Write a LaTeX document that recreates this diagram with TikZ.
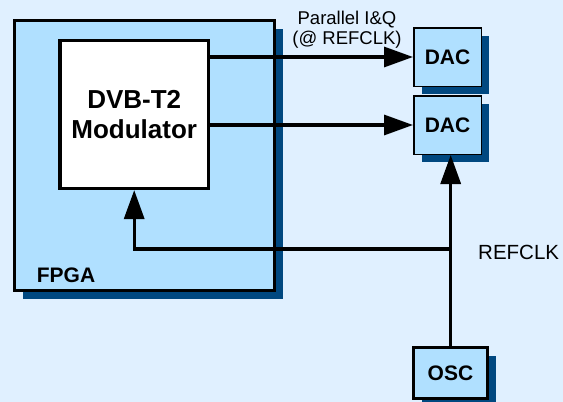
\documentclass[tikz,border=0pt]{standalone}
\usepackage{fontspec}
\setmainfont{Liberation Sans}
\usetikzlibrary{arrows.meta,shadows}
\definecolor{bgblue}{RGB}{224,240,255}
\definecolor{boxblue}{RGB}{176,224,255}
\definecolor{shadowblue}{RGB}{0,72,128}
\tikzset{
  shad/.style={drop shadow={shadow xshift=8pt, shadow yshift=-8pt, fill=shadowblue, opacity=1}},
  fpgabox/.style={draw=black, line width=3.4pt, fill=boxblue, shad, inner sep=0pt},
  modbox/.style={draw=black, line width=3.2pt, fill=white, inner sep=0pt, align=center,
     font=\bfseries\fontsize{26}{30}\selectfont},
  dacbox/.style={draw=black, line width=1.5pt, fill=boxblue, shad, inner sep=0pt,
     font=\bfseries\fontsize{21}{24}\selectfont},
  oscbox/.style={draw=black, line width=2.8pt, fill=boxblue, shad, inner sep=0pt,
     font=\bfseries\fontsize{21}{24}\selectfont},
  sig/.style={line width=3.3pt, -{Triangle[length=29pt,width=20pt]}},
  lab/.style={inner sep=0pt}
}
\begin{document}
\begin{tikzpicture}[x=1pt,y=-1pt]
\fill[bgblue] (0,0) rectangle (563,402);
\useasboundingbox (0,0) rectangle (563,402);
\node[fpgabox, minimum width=260pt, minimum height=270pt] (fpga) at (144.5,155.5) {};
\node[lab, anchor=center, font=\bfseries\fontsize{21}{24}\selectfont] (fpgalbl) at (66,275) {FPGA};
\node[modbox, minimum width=148.5pt, minimum height=148pt] (mod) at (134.2,114.5) {DVB-T2\\Modulator};
\node[dacbox, minimum width=67.5pt, minimum height=58.5pt] (dac1) at (447.5,57) {DAC};
\node[dacbox, minimum width=67.5pt, minimum height=58.5pt] (dac2) at (447.5,125) {DAC};
\node[oscbox, minimum width=74pt, minimum height=51pt] (osc) at (450.5,373) {OSC};
\node[lab, align=center, font=\fontsize{18.5}{20}\selectfont] (pl) at (347,30) {Parallel I\&Q\\(@ REFCLK)};
\node[lab, anchor=west, font=\fontsize{20.5}{24}\selectfont] (rl) at (478,252) {REFCLK};
\coordinate (j) at (450.7,249);
\draw[sig] (dac1.west -| mod.east) -- (dac1.west);
\draw[sig] (dac2.west -| mod.east) -- (dac2.west);
\draw[sig] (osc.north -| j) -- (dac2.south -| j);
\draw[sig] (j) -| (mod.south);
\end{tikzpicture}
\end{document}
